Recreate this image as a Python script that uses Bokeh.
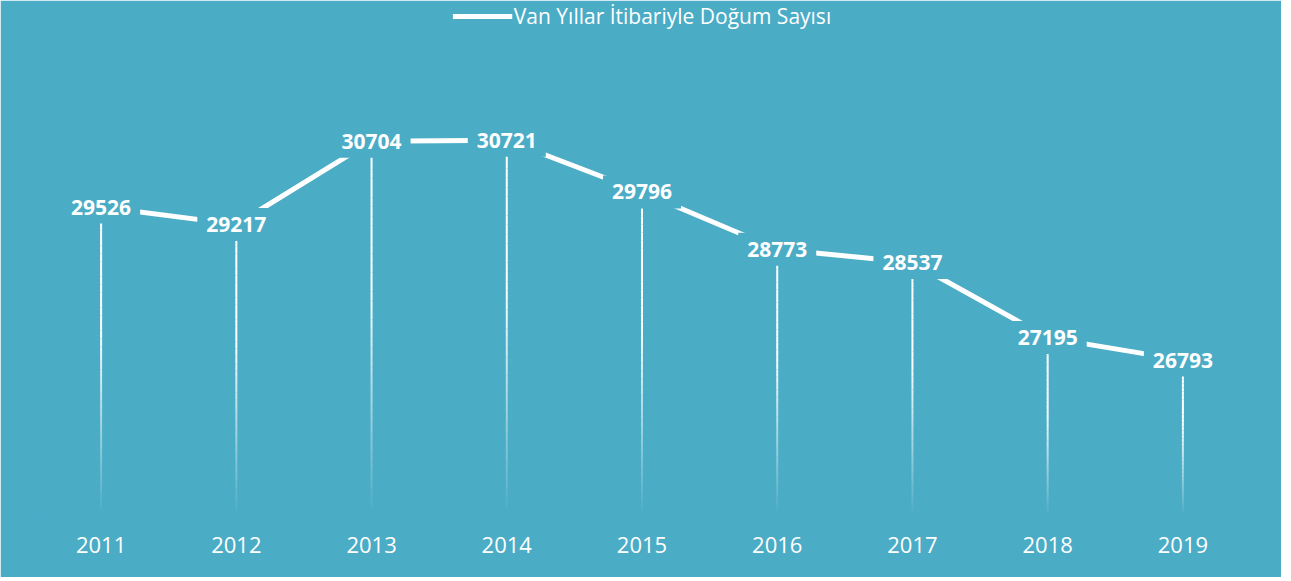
from bokeh.plotting import figure
from bokeh.models import ColumnDataSource, Legend, LegendItem, FactorRange
from bokeh.core.properties import value
from bokeh.embed import file_html
from bokeh.resources import INLINE

# ---- data ----
years = ["2011", "2012", "2013", "2014", "2015", "2016", "2017", "2018", "2019"]
births = [29526, 29217, 30704, 30721, 29796, 28773, 28537, 27195, 26793]
series_name = "Van Yıllar İtibariyle Doğum Sayısı"
y_min = 24000
y_max = 33180

BG = "#4BACC6"
FONT = "Open Sans"

p = figure(width=1281, height=577,
           x_range=FactorRange(factors=years, range_padding=0),
           y_range=(y_min, y_max),
           y_axis_location=None,
           output_backend="svg", toolbar_location=None,
           min_border_left=33, min_border_right=31,
           min_border_top=2, min_border_bottom=61,
           background_fill_color=BG, border_fill_color=BG,
           outline_line_color=BG, outline_line_width=2)

p.grid.visible = False

# drop lines fading toward the axis
N = 40
dx, dy0, dy1, da = [], [], [], []
for yr, v in zip(years, births):
    for k in range(N):
        t0, t1 = k / N, (k + 1) / N
        tm = (t0 + t1) / 2
        a = 1.0 if tm < 0.4 else max(0.0, 1 - (tm - 0.4) / 0.6)
        dx.append(yr)
        dy0.append(v + (y_min - v) * t0)
        dy1.append(v + (y_min - v) * t1)
        da.append(a)
drop_src = ColumnDataSource(dict(x=dx, y0=dy0, y1=dy1, a=da))
p.segment(x0="x", y0="y0", x1="x", y1="y1", source=drop_src,
          line_color="white", line_alpha="a", line_width=2)

src = ColumnDataSource(dict(x=years, y=births, label=[str(b) for b in births]))
line_r = p.line(x="x", y="y", source=src, line_color="white", line_width=5)

p.text(x="x", y="y", text="label", source=src,
       text_align="center", text_baseline="middle",
       text_font=value(FONT), text_font_style="bold", text_font_size="21px",
       text_color="white", background_fill_color=BG, padding=9)

# x axis
ax = p.xaxis[0]
ax.axis_line_color = None
ax.major_tick_line_color = None
ax.minor_tick_line_color = None
ax.major_label_text_color = "white"
ax.major_label_text_font = FONT
ax.major_label_text_font_size = "22px"
ax.major_label_standoff = 14

legend = Legend(items=[LegendItem(label=series_name, renderers=[line_r])],
                location="top_center", orientation="horizontal",
                background_fill_alpha=0, border_line_color=None,
                margin=0, padding=0, spacing=0,
                glyph_width=60, glyph_height=16, label_height=16,
                label_standoff=2,
                label_text_color="white", label_text_font=FONT,
                label_text_font_size="21px")
p.add_layout(legend)

open("out.html", "w").write(file_html(p, INLINE))
